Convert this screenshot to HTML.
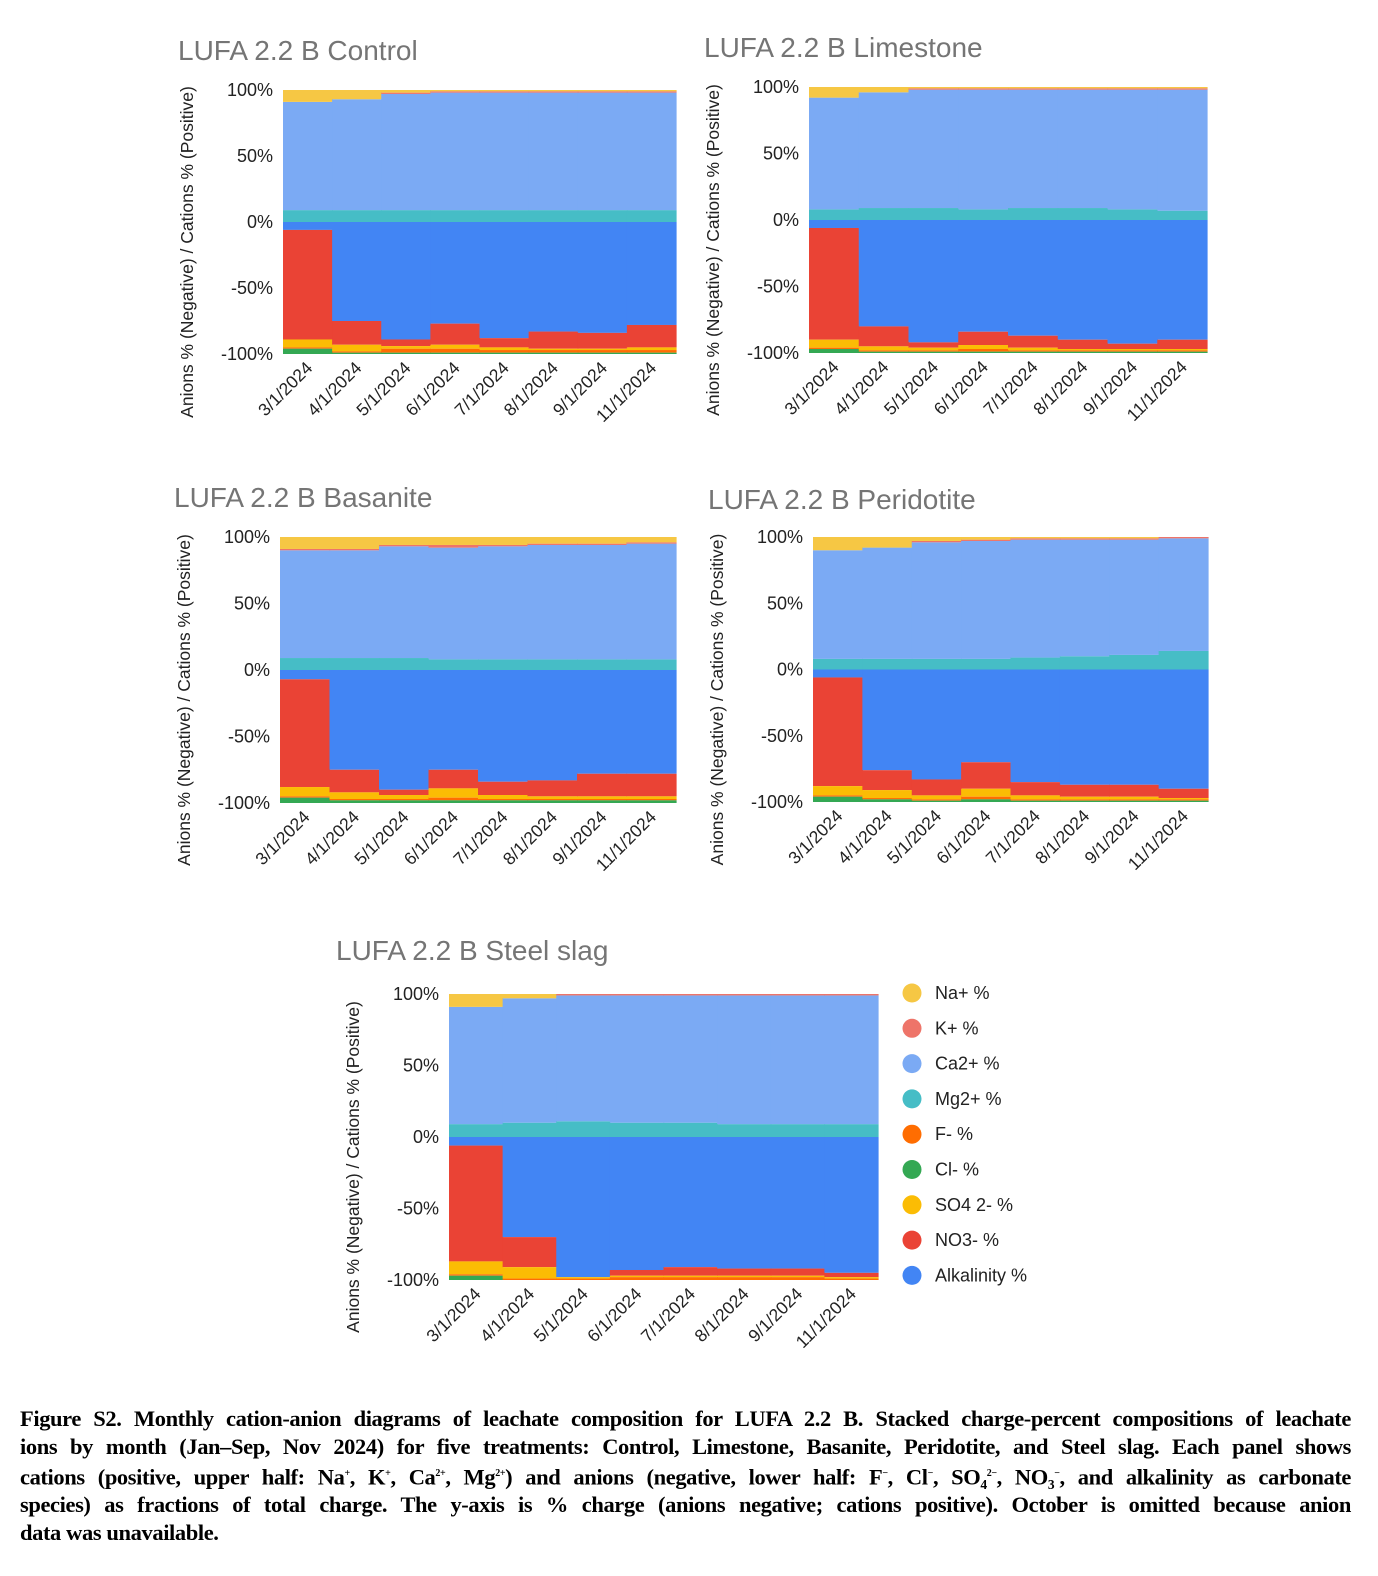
<!DOCTYPE html>
<html><head><meta charset="utf-8">
<style>
body{margin:0;background:#fff;width:1378px;height:1576px;position:relative;overflow:hidden;font-family:"Liberation Sans",sans-serif}
svg{position:absolute;left:0;top:0}
#cap{position:absolute;left:20px;top:1405px;width:1331px;font-family:"Liberation Serif",serif;font-weight:bold;font-size:22.5px;line-height:27.6px;color:#000;letter-spacing:-0.4px}
#cap div{text-align:justify;text-align-last:justify;white-space:nowrap}
#cap div.last{text-align-last:left}
</style></head><body>
<svg id="chart" width="1378" height="1380"></svg>
<div id="cap">
<div>Figure S2. Monthly cation-anion diagrams of leachate composition for LUFA 2.2 B. Stacked charge-percent compositions of leachate</div>
<div>ions by month (Jan–Sep, Nov 2024) for five treatments: Control, Limestone, Basanite, Peridotite, and Steel slag. Each panel shows</div>
<div>cations (positive, upper half: Na<sup style="font-size:10px">+</sup>, K<sup style="font-size:10px">+</sup>, Ca<sup style="font-size:10px">2+</sup>, Mg<sup style="font-size:10px">2+</sup>) and anions (negative, lower half: F<sup style="font-size:10px">−</sup>, Cl<sup style="font-size:10px">−</sup>, SO₄<sup style="font-size:10px">2−</sup>, NO₃<sup style="font-size:10px">−</sup>, and alkalinity as carbonate</div>
<div>species) as fractions of total charge. The y-axis is % charge (anions negative; cations positive). October is omitted because anion</div>
<div class="last">data was unavailable.</div>
</div>
<script>
const months=["3/1/2024","4/1/2024","5/1/2024","6/1/2024","7/1/2024","8/1/2024","9/1/2024","11/1/2024"];
const yTicks=[100,50,0,-50,-100];
const seriesNames=["Na+ %","K+ %","Ca2+ %","Mg2+ %","F- %","Cl- %","SO4 2- %","NO3- %","Alkalinity %"];
// Control
const controlMg=[9,9,9,9,9,9,9,9];
const controlCa=[82,84,88,89,89,89,89,89];
const controlK=[0,0,1,1,1,1,1,1];
const controlNa=[9,7,2,1,1,1,1,1];
const controlAlk=[6,75,89,77,88,83,84,78];
const controlNO3=[83,18,5,16,7,13,12,17];
const controlSO4=[6,5,2,3,2,1,1,2];
const controlF=[1,1,3,3,2,2,2,2];
const controlCl=[4,1,1,1,1,1,1,1];
// Limestone
const limeMg=[8,9,9,8,9,9,8,7];
const limeCa=[84,87,89,90,89,89,90,91];
const limeK=[0,0,1,1,1,1,1,1];
const limeNa=[8,4,1,1,1,1,1,1];
const limeAlk=[6,80,92,84,87,90,93,90];
const limeNO3=[84,15,4,10,9,7,4,7];
const limeSO4=[6,3,2,3,2,1,1,1];
const limeF=[1,1,1,2,1,1,1,1];
const limeCl=[3,1,1,1,1,1,1,1];
// Basanite
const basMg=[9,9,9,8,8,8,8,8];
const basCa=[81,81,84,84,85,86,86,87];
const basK=[1,1,1,2,1,1,1,1];
const basNa=[9,9,6,6,6,5,5,4];
const basAlk=[7,75,90,75,84,83,78,78];
const basNO3=[81,17,4,14,10,12,17,17];
const basSO4=[7,5,3,7,3,2,2,2];
const basF=[1,1,1,2,1,1,1,1];
const basCl=[4,2,2,2,2,2,2,2];
// Peridotite
const perMg=[8,8,8,8,9,10,11,14];
const perCa=[82,84,88,89,89,88,87,85];
const perK=[0,0,1,1,1,1,1,1];
const perNa=[10,8,3,2,1,1,1,0];
const perAlk=[6,76,83,70,85,87,87,90];
const perNO3=[82,15,12,20,10,9,9,7];
const perSO4=[7,6,3,6,3,2,2,1];
const perF=[1,1,1,2,1,1,1,1];
const perCl=[4,2,1,2,1,1,1,1];
// Steel slag
const slagMg=[9,10,11,10,10,9,9,9];
const slagCa=[82,87,88,89,89,90,90,90];
const slagK=[0,0,1,1,1,1,1,1];
const slagNa=[9,3,0,0,0,0,0,0];
const slagAlk=[6,70,98,93,91,92,92,95];
const slagNO3=[81,21,0,4,6,5,5,3];
const slagSO4=[9,8,1,1,1,1,1,1];
const slagF=[1,1,1,2,2,2,2,1];
const slagCl=[3,0,0,0,0,0,0,0];

const C={Na:"#f6c744",K:"#ee7469",Ca:"#7baaf4",Mg:"#46bdc6",F:"#ff6d01",Cl:"#34a853",SO4:"#fbbc04",NO3:"#ea4335",Alk:"#4285f4"};
const svg=document.getElementById('chart');
const NS="http://www.w3.org/2000/svg";
function mk(tag,attrs,parent){const e=document.createElementNS(NS,tag);for(const k in attrs)e.setAttribute(k,attrs[k]);(parent||svg).appendChild(e);return e;}

const panels=[
 {name:"control",title:"LUFA 2.2 B Control",tx:178,ty:60,x0:283,x1:676,yTop:90,yBot:354,cat:[["Mg",controlMg],["Ca",controlCa],["K",controlK],["Na",controlNa]],an:[["Alk",controlAlk],["NO3",controlNO3],["SO4",controlSO4],["F",controlF],["Cl",controlCl]]},
 {name:"limestone",title:"LUFA 2.2 B Limestone",tx:704,ty:57,x0:809,x1:1207,yTop:87,yBot:353,cat:[["Mg",limeMg],["Ca",limeCa],["K",limeK],["Na",limeNa]],an:[["Alk",limeAlk],["NO3",limeNO3],["SO4",limeSO4],["F",limeF],["Cl",limeCl]]},
 {name:"basanite",title:"LUFA 2.2 B Basanite",tx:174,ty:507,x0:280,x1:676,yTop:537,yBot:803,cat:[["Mg",basMg],["Ca",basCa],["K",basK],["Na",basNa]],an:[["Alk",basAlk],["NO3",basNO3],["SO4",basSO4],["F",basF],["Cl",basCl]]},
 {name:"peridotite",title:"LUFA 2.2 B Peridotite",tx:708,ty:509,x0:813,x1:1208,yTop:537,yBot:802,cat:[["Mg",perMg],["Ca",perCa],["K",perK],["Na",perNa]],an:[["Alk",perAlk],["NO3",perNO3],["SO4",perSO4],["F",perF],["Cl",perCl]]},
 {name:"steel-slag",title:"LUFA 2.2 B Steel slag",tx:336,ty:960,x0:449,x1:878,yTop:994,yBot:1280,cat:[["Mg",slagMg],["Ca",slagCa],["K",slagK],["Na",slagNa]],an:[["Alk",slagAlk],["NO3",slagNO3],["SO4",slagSO4],["F",slagF],["Cl",slagCl]]}
];

panels.forEach(p=>{
  const g=mk('g',{});
  
  
  const y=v=>p.yTop+(100-v)/200*(p.yBot-p.yTop);
  const bw=(p.x1-p.x0)/months.length;
  const x=i=>p.x0+i*bw;
  const t=mk('text',{x:p.tx,y:p.ty,'font-size':28,fill:'#757575'},g);t.textContent=p.title;
  
  
  months.forEach((m,i)=>{
    let acc=0;
    p.cat.forEach(([k,arr])=>{
      const r=mk('rect',{x:x(i),width:bw+0.6,y:y(acc+arr[i]),height:Math.max(0,y(acc)-y(acc+arr[i])),fill:C[k]},g);
      
      
      acc+=arr[i];
    });
    acc=0;
    p.an.forEach(([k,arr])=>{
      const r=mk('rect',{x:x(i),width:bw+0.6,y:y(-acc),height:Math.max(0,y(-acc-arr[i])-y(-acc)),fill:C[k]},g);
      
      
      acc+=arr[i];
    });
    const cx=x(i)+bw/2+6, cy=p.yBot+15;
    const lt=mk('text',{x:cx,y:cy,'font-size':17.5,fill:'#222','text-anchor':'end',transform:`rotate(-45 ${cx} ${cy})`},g);
    lt.textContent=m;
    
    
  });
  yTicks.forEach(v=>{
    const tt=mk('text',{x:p.x0-10,y:y(v)+6,'font-size':18,fill:'#222','text-anchor':'end'},g);
    tt.textContent=v+'%';
    
    
  });
  const ax=p.x0-90, ay=(p.yTop+p.yBot)/2+30;
  const at=mk('text',{x:ax,y:ay,'font-size':17.5,fill:'#222','text-anchor':'middle',transform:`rotate(-90 ${ax} ${ay})`},g);
  at.textContent='Anions % (Negative) / Cations % (Positive)';
  
  
});

const legKeys=["Na","K","Ca","Mg","F","Cl","SO4","NO3","Alk"];
legKeys.forEach((k,i)=>{
  const ly=993+i*35.3;
  const c=mk('circle',{cx:912,cy:ly,r:9.5,fill:C[k]});
  
  
  const t=mk('text',{x:935,y:ly+6,'font-size':18,fill:'#222'});
  t.textContent=seriesNames[i];
  
  
});
</script>
</body></html>
